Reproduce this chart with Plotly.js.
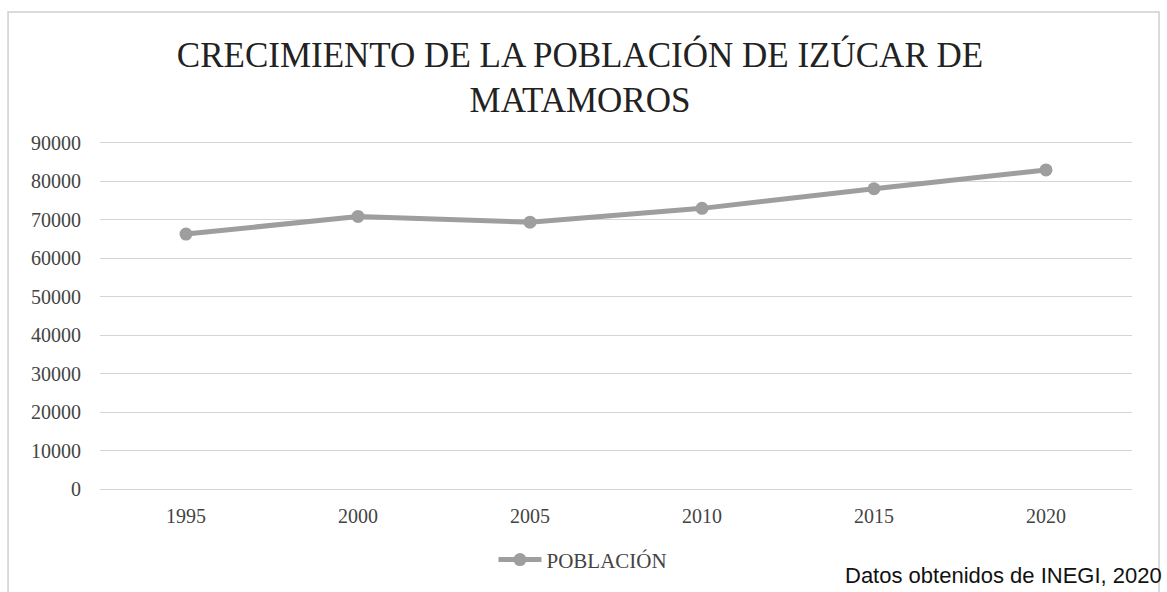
<!DOCTYPE html>
<html>
<head>
<meta charset="utf-8">
<script src="https://cdn.plot.ly/plotly-3.0.1.min.js"></script>
<style>html,body{margin:0;padding:0;background:#fff;}#chart{width:1167px;height:592px;}</style>
</head>
<body>
<div id="chart"></div>
<script>
const years = ["1995", "2000", "2005", "2010", "2015", "2020"];
const poblacion = [66300, 70900, 69400, 73000, 78100, 83000];
const yTicks = [0, 10000, 20000, 30000, 40000, 50000, 60000, 70000, 80000, 90000];
const seriesName = "POBLACIÓN";
const titleText = "CRECIMIENTO DE LA POBLACIÓN DE IZÚCAR DE<br>MATAMOROS";
const sourceText = "Datos obtenidos de INEGI, 2020";

const serif = "Liberation Serif, Times New Roman, serif";
const gridColor = "#d4d4dc";

Plotly.newPlot("chart", [{
  x: years,
  y: poblacion,
  type: "scatter",
  mode: "lines+markers",
  name: seriesName,
  line: {color: "#9e9e9e", width: 5},
  marker: {color: "#9e9e9e", size: 13}
}], {
  width: 1167,
  height: 592,
  margin: {l: 100, r: 35, t: 143, b: 103},
  paper_bgcolor: "#fff",
  plot_bgcolor: "#fff",
  title: {
    text: titleText,
    font: {family: serif, size: 35, color: "#222"},
    x: 0.497, xanchor: "center",
    yref: "container", y: 0.887, yanchor: "top"
  },
  xaxis: {
    type: "category",
    range: [-0.5, 5.5],
    showgrid: false, zeroline: false,
    showline: true, mirror: true, linecolor: gridColor, linewidth: 1,
    ticks: "",
    tickfont: {family: serif, size: 20, color: "#444"},
    ticklabelstandoff: 9
  },
  yaxis: {
    range: [0, 90000],
    tickvals: yTicks,
    ticktext: yTicks.map(String),
    showgrid: true, gridcolor: gridColor, gridwidth: 1,
    zeroline: false, showline: false, ticks: "",
    tickfont: {family: serif, size: 20, color: "#444"},
    ticklabelstandoff: 18
  },
  showlegend: true,
  legend: {
    orientation: "h", x: 0.468, xanchor: "center", y: -0.205, yanchor: "middle",
    font: {family: serif, size: 21, color: "#444"},
    itemwidth: 43,
    bgcolor: "rgba(0,0,0,0)"
  },
  annotations: [{
    text: sourceText, xref: "paper", yref: "paper",
    x: 0.72, xanchor: "left", y: -0.251, yanchor: "middle",
    showarrow: false,
    font: {family: "Liberation Sans, Arial, sans-serif", size: 22, color: "#111"}
  }],
  shapes: [{
    type: "rect", xref: "paper", yref: "paper",
    x0: -0.0891, x1: 1.0262, y0: -0.35, y1: 1.3786,
    line: {color: "#cfcfcf", width: 1.5}
  }]
}, {displayModeBar: false, staticPlot: true});
</script>
</body>
</html>
